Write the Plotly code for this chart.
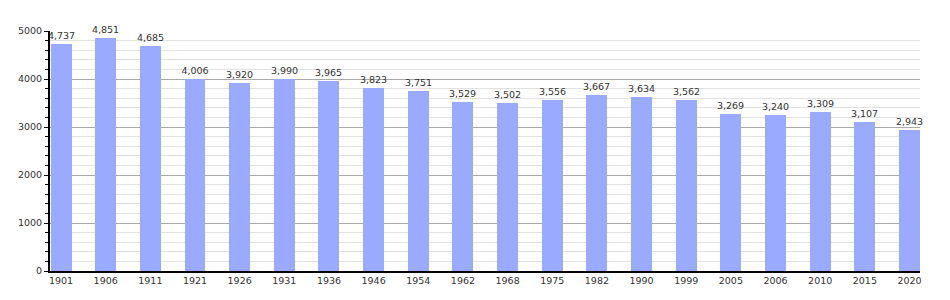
import plotly.graph_objects as go

years = ["1901", "1906", "1911", "1921", "1926", "1931", "1936", "1946", "1954", "1962",
         "1968", "1975", "1982", "1990", "1999", "2005", "2006", "2010", "2015", "2020"]
population = [4737, 4851, 4685, 4006, 3920, 3990, 3965, 3823, 3751, 3529,
              3502, 3556, 3667, 3634, 3562, 3269, 3240, 3309, 3107, 2943]
y_ticks = [0, 1000, 2000, 3000, 4000, 5000]

idx = list(range(len(years)))

fig = go.Figure()
fig.add_trace(go.Bar(
    x=idx, y=population, width=0.47,
    marker=dict(color="#99aaff", line=dict(width=0)),
    text=[f"{v:,}" for v in population], textposition="outside",
    constraintext="none",
    textfont=dict(family="DejaVu Sans", size=9.5, color="#333333"),
    cliponaxis=False,
))
fig.update_layout(
    width=950, height=300,
    margin=dict(l=50, r=30, t=31, b=29),
    plot_bgcolor="white", paper_bgcolor="white",
    showlegend=False, bargap=0,
    font=dict(family="DejaVu Sans", size=9.5, color="#333333"),
    xaxis=dict(
        range=[-0.247, 19.235], tickmode="array", tickvals=idx, ticktext=years,
        showgrid=False, showline=True, linecolor="black", linewidth=2,
        ticks="", zeroline=False, tickfont=dict(size=9.5, color="#333333"),
    ),
    yaxis=dict(
        range=[0, 5000], tickmode="array", tickvals=y_ticks,
        ticktext=[str(v) for v in y_ticks],
        showgrid=True, gridcolor="#aaaaaa", gridwidth=1,
        showline=True, linecolor="black", linewidth=2,
        ticks="outside", ticklen=4, tickcolor="black",
        zeroline=False, tickfont=dict(size=9.5, color="#333333"),
        minor=dict(dtick=200, tick0=0, showgrid=True, gridcolor="#e2e2e2",
                   gridwidth=1, ticks="outside", ticklen=3, tickcolor="black"),
    ),
)
fig.write_html("out.html")
